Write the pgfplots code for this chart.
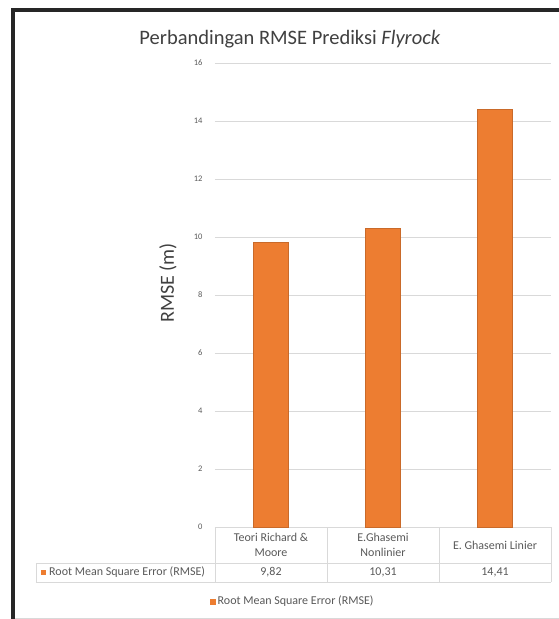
\documentclass[border=0pt]{standalone}
\usepackage{fontspec}
\setmainfont{Carlito}
\usepackage{pgfplots}
\pgfplotsset{compat=1.18}
\definecolor{barorange}{HTML}{ED7D31}
\definecolor{gridgray}{HTML}{D9D9D9}
\definecolor{txtgray}{HTML}{595959}
\definecolor{ttlgray}{HTML}{404040}
\newcommand{\tblfont}{\fontsize{12}{15.5}\selectfont}

\begin{document}
\begin{tikzpicture}
\begin{axis}[
    name=ax,
    scale only axis,
    width=336pt, height=464pt,
    ybar, bar width=35pt,
    xmin=-0.5, xmax=2.5,
    ymin=0, ymax=16,
    ytick={0,2,...,16},
    xtick={0,1,2},
    xticklabels={{Teori Richard \&\\Moore},{E.Ghasemi\\Nonlinier},{E. Ghasemi Linier}},
    xticklabel style={anchor=center, yshift=-18pt, align=center, font=\tblfont, text=txtgray},
    yticklabel style={font=\fontsize{8.5}{10}\selectfont, text=txtgray, xshift=-9pt},
    /pgf/number format/assume math mode=true,
    axis line style={draw=none},
    major tick length=0pt,
    ymajorgrids,
    grid style={gridgray, line width=0.9pt},
    title={Perbandingan RMSE Prediksi \textit{Flyrock}},
    title style={at={(axis description cs:0.223,1.039)}, anchor=center,
        font=\fontsize{20.5}{23}\selectfont, text=ttlgray},
    ylabel={RMSE (m)},
    ylabel style={at={(axis description cs:-0.14,0.526)}, anchor=center,
        font=\fontsize{20}{22}\selectfont, text=ttlgray},
    legend style={draw=none, at={(axis description cs:0.232,-0.16)}, anchor=center,
        font=\tblfont, text=txtgray, inner sep=1pt},
    legend image code/.code={\fill[barorange] (-1pt,-2.5pt) rectangle (4pt,2.5pt);},
]
\addplot[fill=barorange, draw=barorange!85!black,
    point meta=y,
    visualization depends on={y \as \rawy},
    nodes near coords={\pgfmathprintnumber[fixed,fixed zerofill,precision=2,use comma]{\pgfplotspointmeta}},
    every node near coord/.append style={anchor=center, yshift={-(\rawy*29+45)*1pt},
        font=\tblfont, text=txtgray},
] coordinates {(0,9.82) (1,10.31) (2,14.41)};
\legend{Root Mean Square Error (RMSE)}
\coordinate (o) at (rel axis cs:0,0);
\end{axis}
% everything below in picture pixels, origin at bottom-left of the picture
\begin{scope}[shift={(o)}, shift={(-215pt,-92pt)}, x=1pt, y=1pt]
\draw[gridgray, line width=0.9pt]
    (215,92) -- (215,37) (327,92) -- (327,37) (439,92) -- (439,37) (551,92) -- (551,37)
    (36,56) -- (551,56) (36,37) -- (551,37) (36,56) -- (36,37);
\fill[barorange] (41,44) rectangle (46,49);
\node[anchor=west, font=\tblfont, text=txtgray, inner sep=0pt] at (49,46.5) {Root Mean Square Error (RMSE)};
\draw[gridgray, line width=0.8pt] (15,1) -- (559,1);
\draw[black!85, line width=4pt] (13,0) -- (13,609) -- (559,609);
\end{scope}
\pgfresetboundingbox
\path[use as bounding box, shift={(o)}, shift={(-215pt,-92pt)}] (0pt,0pt) rectangle (559pt,619pt);
\end{tikzpicture}
\end{document}
